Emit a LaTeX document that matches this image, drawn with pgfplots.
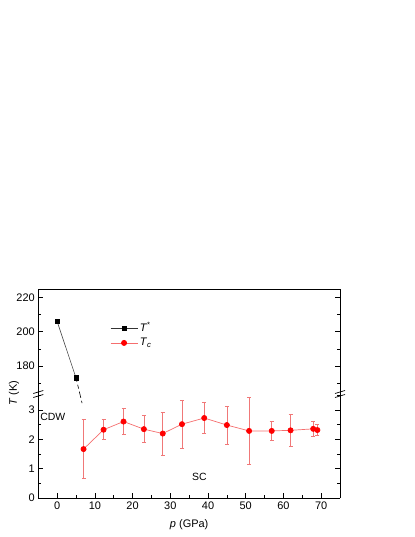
\documentclass[border=0pt]{standalone}
\usepackage{fontspec}
\setmainfont{Liberation Sans}
\usepackage{pgfplots}
\pgfplotsset{compat=1.18}
\definecolor{tcline}{RGB}{245,110,110}
\definecolor{tcerr}{RGB}{240,120,120}

\begin{document}
\begin{tikzpicture}
\useasboundingbox (0,0) rectangle (415bp,537bp);
\pgfplotsset{
  every non boxed x axis/.style={},
  every non boxed y axis/.style={},
  brk/.style={
    scale only axis,
    width=301.7bp,
    xmin=-5, xmax=75,
    axis y line=box,
    tick align=inside,
    xtick align=inside,
    ytick align=inside,
    major tick length=4.5bp,
    minor tick length=2.5bp,
    axis line style={-, line width=0.8pt},
    x axis line style={-},
    y axis line style={-},
    tick style={black, line width=0.7pt},
    /pgf/number format/assume math mode=true,
    tick label style={font=\fontsize{11}{13}\selectfont},
    label style={font=\fontsize{11}{13}\selectfont},
  },
  tcstyle/.style={tcline, line width=0.7pt, mark=*, mark size=2.6bp,
    mark options={fill=red, draw=red, solid}},
  tsstyle/.style={black!80, line width=0.5pt, mark=square*, mark size=2.2bp,
    mark options={fill=black, draw=black}},
  legend image code/.code={
    \draw[mark repeat=2, mark phase=2, #1]
      plot coordinates {(0bp,0bp) (13.5bp,0bp) (27bp,0bp)};
  },
}

% upper panel: T*
\begin{axis}[brk,
  at={(38.3bp,143bp)}, anchor=south west,
  height=105bp,
  ymin=163.6, ymax=225,
  axis x line=top,
  xtick=\empty,
  ytick={180,200,220},
  minor ytick={170,190,210},
  legend style={at={(0.2377,0.70)}, anchor=north west, draw=none, fill=none,
    inner sep=0pt, row sep=1pt, font=\fontsize{11}{13}\selectfont},
  legend cell align=left,
]
\addplot[tsstyle] coordinates {(0,206) (5,173)};
\addlegendentry{\textit{T}\textsuperscript{*}}
\addplot[black, line width=0.6pt, dash pattern=on 4bp off 3bp, forget plot]
  coordinates {(5,173) (6.03,163.6)};
\addlegendimage{tcstyle}
\addlegendentry{\textit{T}\textsubscript{\textit{c}}}
\end{axis}

% lower panel: Tc
\begin{axis}[brk,
  at={(38.3bp,39bp)}, anchor=south west,
  height=104bp,
  ymin=0, ymax=3.55,
  axis x line=bottom,
  xtick={0,10,...,70},
  minor xtick={5,15,...,65},
  ytick={0,1,2,3},
  minor ytick={0.5,1.5,2.5,3.5},
  xlabel={\textit{p} (GPa)},
  xlabel style={yshift=-3bp},
]
\addplot[black, line width=0.6pt, dash pattern=on 4bp off 3bp]
  coordinates {(6.03,3.55) (6.6,3.24)};
\addplot[tcstyle,
  error bars/.cd, y dir=both, y explicit,
  error bar style={tcerr, line width=0.7pt},
  error mark options={rotate=90, tcerr, mark size=2bp, line width=0.7pt},
] coordinates {
  (7.0,1.67) +- (0,1.00)
  (12.3,2.33) +- (0,0.34)
  (17.6,2.61) +- (0,0.45)
  (23.0,2.35) +- (0,0.46)
  (28.0,2.20) +- (0,0.73)
  (33.1,2.52) +- (0,0.83)
  (39.0,2.73) +- (0,0.54)
  (45.0,2.49) +- (0,0.65)
  (50.9,2.29) +- (0,1.14)
  (56.9,2.29) +- (0,0.31)
  (61.9,2.31) +- (0,0.55)
  (67.9,2.36) +- (0,0.27)
  (69.0,2.32) +- (0,0.19)
};
\node[anchor=west, inner sep=0pt, font=\fontsize{10.5}{12}\selectfont]
  at (axis cs:-4.5,2.76) {CDW};
\node[inner sep=0pt, font=\fontsize{10.5}{12}\selectfont]
  at (axis cs:37.7,0.72) {SC};
\end{axis}

% axis breaks
\foreach \cx in {38.3,340} {
  \draw[black, line width=0.7pt] (\cx bp-5bp,139.5bp) -- (\cx bp+5bp,142.5bp);
  \draw[black, line width=0.7pt] (\cx bp-5bp,143.5bp) -- (\cx bp+5bp,146.5bp);
}
\node[rotate=90, font=\fontsize{11}{13}\selectfont] at (14bp,144bp) {\textit{T} (K)};
\end{tikzpicture}
\end{document}
